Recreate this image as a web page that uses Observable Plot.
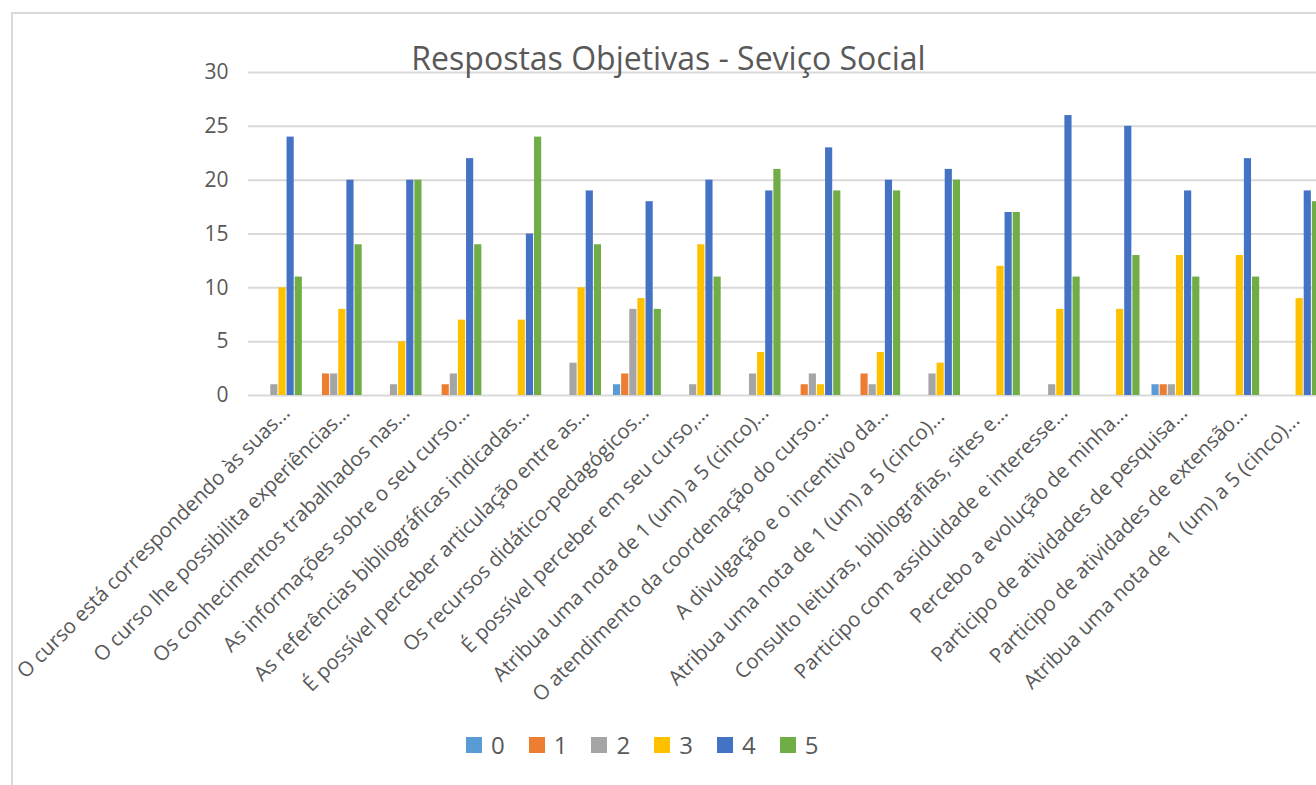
<!DOCTYPE html>
<html>
<head>
<meta charset="utf-8">
<script src="https://cdn.jsdelivr.net/npm/d3@7"></script>
<script src="https://cdn.jsdelivr.net/npm/@observablehq/plot@0.6"></script>
<style>
  html, body { margin: 0; padding: 0; background: #fff; width: 1316px; height: 785px; overflow: hidden; }
  #wrap { position: relative; width: 1316px; height: 785px; font-family: "Open Sans", sans-serif; overflow: hidden; }
  #frame { position: absolute; left: 11px; top: 12px; width: 1400px; height: 800px; border-left: 2px solid #d9d9d9; border-top: 2px solid #d9d9d9; box-sizing: border-box; }
  .layer { position: absolute; left: 0; top: 0; width: 1340px; height: 720px; }
  .layer svg { max-width: none !important; }
  #bg g[aria-label="y-axis tick label"] { font-size: 21px; }
  #fg g[aria-label="fx-axis tick label"] { font-size: 20.5px; }
  #title { position: absolute; left: 0; width: 1337px; top: 36px; text-align: center; font-size: 32px; color: #595959; white-space: nowrap; }
  #legend { position: absolute; top: 728px; left: 466px; display: flex; }
  .item { display: flex; align-items: center; margin-right: 24px; font-size: 24px; color: #595959; }
  .sw { width: 16px; height: 16px; margin-right: 9px; display: inline-block; }
</style>
</head>
<body>
<div id="wrap">
  <div id="frame"></div>
  <div id="bg" class="layer"></div>
  <div id="fg" class="layer"></div>
  <div id="title">Respostas Objetivas - Seviço Social</div>
  <div id="legend"></div>
</div>
<script>
const categories = [
  "O curso está correspondendo às suas...",
  "O curso lhe possibilita experiências...",
  "Os conhecimentos trabalhados nas...",
  "As informações sobre o seu curso...",
  "As referências bibliográficas indicadas...",
  "É possível perceber articulação entre as...",
  "Os recursos didático-pedagógicos...",
  "É possível perceber em seu curso,...",
  "Atribua uma nota de 1 (um) a 5 (cinco)...",
  "O atendimento da coordenação do curso...",
  "A divulgação e o incentivo da...",
  "Atribua uma nota de 1 (um) a 5 (cinco)... ",
  "Consulto leituras, bibliografias, sites e...",
  "Participo com assiduidade e interesse...",
  "Percebo a evolução de minha...",
  "Participo de atividades de pesquisa...",
  "Participo de atividades de extensão...",
  "Atribua uma nota de 1 (um) a 5 (cinco)...  "
];
const series = ["0", "1", "2", "3", "4", "5"];
const colors = ["#5b9bd5", "#ed7d31", "#a5a5a5", "#ffc000", "#4472c4", "#70ad47"];
const yTicks = [0, 5, 10, 15, 20, 25, 30];

const values0 = [0, 0, 0, 0, 0, 0, 1, 0, 0, 0, 0, 0, 0, 0, 0, 1, 0, 0];
const values1 = [0, 2, 0, 1, 0, 0, 2, 0, 0, 1, 2, 0, 0, 0, 0, 1, 0, 0];
const values2 = [1, 2, 1, 2, 0, 3, 8, 1, 2, 2, 1, 2, 0, 1, 0, 1, 0, 0];
const values3 = [10, 8, 5, 7, 7, 10, 9, 14, 4, 1, 4, 3, 12, 8, 8, 13, 13, 9];
const values4 = [24, 20, 20, 22, 15, 19, 18, 20, 19, 23, 20, 21, 17, 26, 25, 19, 22, 19];
const values5 = [11, 14, 20, 14, 24, 14, 8, 11, 21, 19, 19, 20, 17, 11, 13, 11, 11, 18];

const allValues = [values0, values1, values2, values3, values4, values5];
const data = categories.flatMap((c, i) =>
  series.map((s, j) => ({cat: c, s, v: allValues[j][i]}))
);

const W = 1340, H = 720;
const common = {
  width: W, height: H,
  marginLeft: 248, marginRight: 15, marginTop: 72, marginBottom: 325,
  style: {fontFamily: "Open Sans, sans-serif", background: "transparent", overflow: "visible", maxWidth: "none"}
};

const bg = Plot.plot({
  ...common,
  x: {axis: null, domain: [0, 1]},
  y: {domain: [0, 30], ticks: yTicks, label: null, tickSize: 0, tickPadding: 18},
  marks: [
    Plot.ruleY(yTicks, {stroke: "#d9d9d9", strokeWidth: 2}),
    Plot.axisY(yTicks, {tickSize: 0, tickPadding: 20, fill: "#595959", label: null})
  ]
});
document.getElementById("bg").appendChild(bg);

const fg = Plot.plot({
  ...common,
  facet: {marginLeft: 248, marginRight: 15},
  fx: {domain: categories, paddingInner: 0.2, paddingOuter: 0.1, round: false, label: null, axis: null},
  x: {domain: series, axis: null, paddingInner: 0.12, paddingOuter: 0, round: false},
  y: {domain: [0, 30], axis: null},
  color: {domain: series, range: colors},
  marks: [
    Plot.barY(data, {fx: "cat", x: "s", y: "v", fill: "s"}),
    Plot.axisFx({tickRotate: -45, tickSize: 0, tickPadding: 10, dx: 8, dy: 4, fill: "#595959", label: null, anchor: "bottom", lineWidth: Infinity})
  ]
});
document.getElementById("fg").appendChild(fg);

const legend = document.getElementById("legend");
series.forEach((s, i) => {
  const it = document.createElement("div");
  it.className = "item";
  it.innerHTML = `<span class="sw" style="background:${colors[i]}"></span><span>${s}</span>`;
  legend.appendChild(it);
});
</script>
</body>
</html>
